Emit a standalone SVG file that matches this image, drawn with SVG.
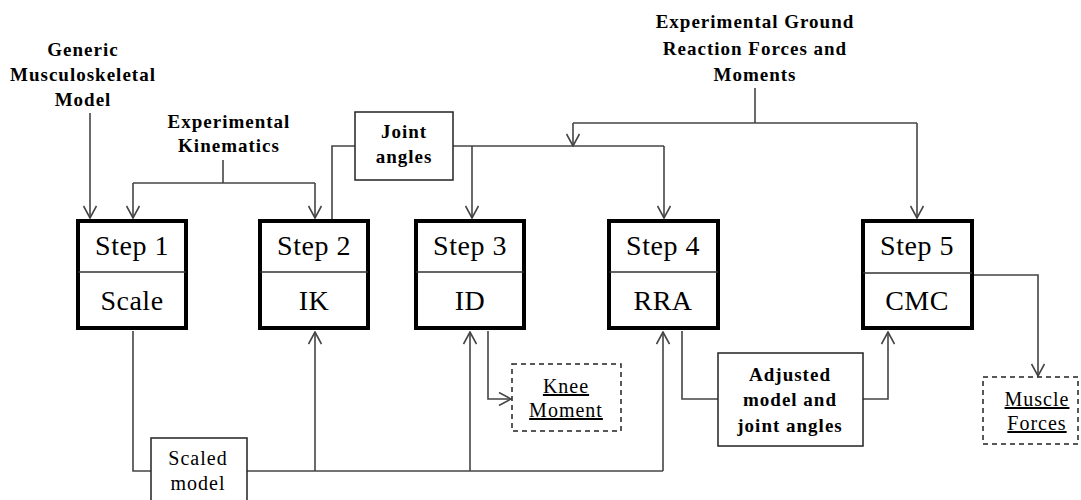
<svg xmlns="http://www.w3.org/2000/svg" width="1081" height="500" viewBox="0 0 1081 500">
  <style>
    .step { fill: #fff; stroke: #000; stroke-width: 4; }
    .div { stroke: #333; stroke-width: 1.5; }
    .box { fill: #fff; stroke: #222; stroke-width: 1.5; }
    .dash { fill: #fff; stroke: #222; stroke-width: 1.5; stroke-dasharray: 5 4; }
    .big { font-size: 28px; letter-spacing: 0.5px; fill: #000; text-anchor: middle; }
    .lbl { font-size: 19px; font-weight: bold; letter-spacing: 1px; fill: #000; text-anchor: middle; }
    .sm { font-size: 20px; letter-spacing: 1px; fill: #000; text-anchor: middle; }
    .u { text-decoration: underline; }
    .wire { fill: none; stroke: #444; stroke-width: 1.6; }
  </style>
  <defs>
    <marker id="arr" viewBox="0 0 14 14" refX="13" refY="7" markerWidth="14" markerHeight="14" markerUnits="userSpaceOnUse" orient="auto">
      <path d="M1,0.5 L13,7 L1,13.5" fill="none" stroke="#444" stroke-width="1.6"/>
    </marker>
  </defs>

  <rect width="1081" height="500" fill="#fff"/>

  <!-- connectors -->
  <g id="connectors">
    <path class="wire" d="M90,113 V218" marker-end="url(#arr)"/>
    <path class="wire" d="M223,160 V183"/>
    <path class="wire" d="M133,183 H315"/>
    <path class="wire" d="M133,183 V218" marker-end="url(#arr)"/>
    <path class="wire" d="M315,183 V218" marker-end="url(#arr)"/>
    <path class="wire" d="M332,220 V146 H355"/>
    <path class="wire" d="M453,146 H664"/>
    <path class="wire" d="M472,146 V218" marker-end="url(#arr)"/>
    <path class="wire" d="M664,146 V218" marker-end="url(#arr)"/>
    <path class="wire" d="M755,88 V123"/>
    <path class="wire" d="M573,123 H917"/>
    <path class="wire" d="M573,123 V146" marker-end="url(#arr)"/>
    <path class="wire" d="M917,123 V218" marker-end="url(#arr)"/>
    <path class="wire" d="M973,275 H1038 V376" marker-end="url(#arr)"/>
    <path class="wire" d="M488,331 V399 H511" marker-end="url(#arr)"/>
    <path class="wire" d="M682,331 V399 H718"/>
    <path class="wire" d="M863,399 H888 V332" marker-end="url(#arr)"/>
    <path class="wire" d="M133,331 V471 H151"/>
    <path class="wire" d="M247,471 H663"/>
    <path class="wire" d="M315,471 V332" marker-end="url(#arr)"/>
    <path class="wire" d="M470,471 V332" marker-end="url(#arr)"/>
    <path class="wire" d="M663,471 V332" marker-end="url(#arr)"/>
  </g>

  <g font-family="'Liberation Serif', 'Times New Roman', serif">
    <!-- input labels -->
    <g id="generic-model">
      <text class="lbl" x="83" y="56">Generic</text>
      <text class="lbl" x="83" y="81">Musculoskeletal</text>
      <text class="lbl" x="83" y="106">Model</text>
    </g>
    <g id="exp-kinematics">
      <text class="lbl" x="229" y="128">Experimental</text>
      <text class="lbl" x="229" y="152">Kinematics</text>
    </g>
    <g id="exp-grf">
      <text class="lbl" x="755" y="28">Experimental Ground</text>
      <text class="lbl" x="755" y="55">Reaction Forces and</text>
      <text class="lbl" x="755" y="81">Moments</text>
    </g>

    <!-- step boxes -->
    <g id="step1">
      <rect class="step" x="78" y="221" width="108" height="107"/>
      <line class="div" x1="78" y1="272" x2="186" y2="272"/>
      <text class="big" x="132" y="255">Step 1</text>
      <text class="big" x="132" y="310">Scale</text>
    </g>
    <g id="step2">
      <rect class="step" x="260" y="221" width="108" height="107"/>
      <line class="div" x1="260" y1="272" x2="368" y2="272"/>
      <text class="big" x="314" y="255">Step 2</text>
      <text class="big" x="314" y="310">IK</text>
    </g>
    <g id="step3">
      <rect class="step" x="416" y="221" width="108" height="107"/>
      <line class="div" x1="416" y1="272" x2="524" y2="272"/>
      <text class="big" x="470" y="255">Step 3</text>
      <text class="big" x="470" y="310">ID</text>
    </g>
    <g id="step4">
      <rect class="step" x="609" y="221" width="109" height="107"/>
      <line class="div" x1="609" y1="272" x2="718" y2="272"/>
      <text class="big" x="663" y="255">Step 4</text>
      <text class="big" x="663" y="310">RRA</text>
    </g>
    <g id="step5">
      <rect class="step" x="863" y="221" width="109" height="107"/>
      <line class="div" x1="863" y1="273" x2="972" y2="273"/>
      <text class="big" x="917" y="255">Step 5</text>
      <text class="big" x="917" y="310">CMC</text>
    </g>

    <!-- intermediate data -->
    <g id="joint-angles">
      <rect class="box" x="355" y="112" width="98" height="68"/>
      <text class="lbl" x="404" y="138">Joint</text>
      <text class="lbl" x="404" y="163">angles</text>
    </g>
    <g id="scaled-model">
      <rect class="box" x="151" y="438" width="96" height="70"/>
      <text class="sm" x="198" y="465">Scaled</text>
      <text class="sm" x="198" y="490">model</text>
    </g>
    <g id="adjusted-model">
      <rect class="box" x="718" y="353" width="145" height="93"/>
      <text class="lbl" x="790" y="381">Adjusted</text>
      <text class="lbl" x="790" y="406">model and</text>
      <text class="lbl" x="790" y="432">joint angles</text>
    </g>

    <!-- outputs -->
    <g id="knee-moment">
      <rect class="dash" x="512" y="364" width="109" height="67"/>
      <text class="sm u" x="566" y="393">Knee</text>
      <text class="sm u" x="566" y="417">Moment</text>
    </g>
    <g id="muscle-forces">
      <rect class="dash" x="983" y="377" width="95" height="67"/>
      <text class="sm u" x="1037" y="406">Muscle</text>
      <text class="sm u" x="1037" y="430">Forces</text>
    </g>
  </g>
</svg>
